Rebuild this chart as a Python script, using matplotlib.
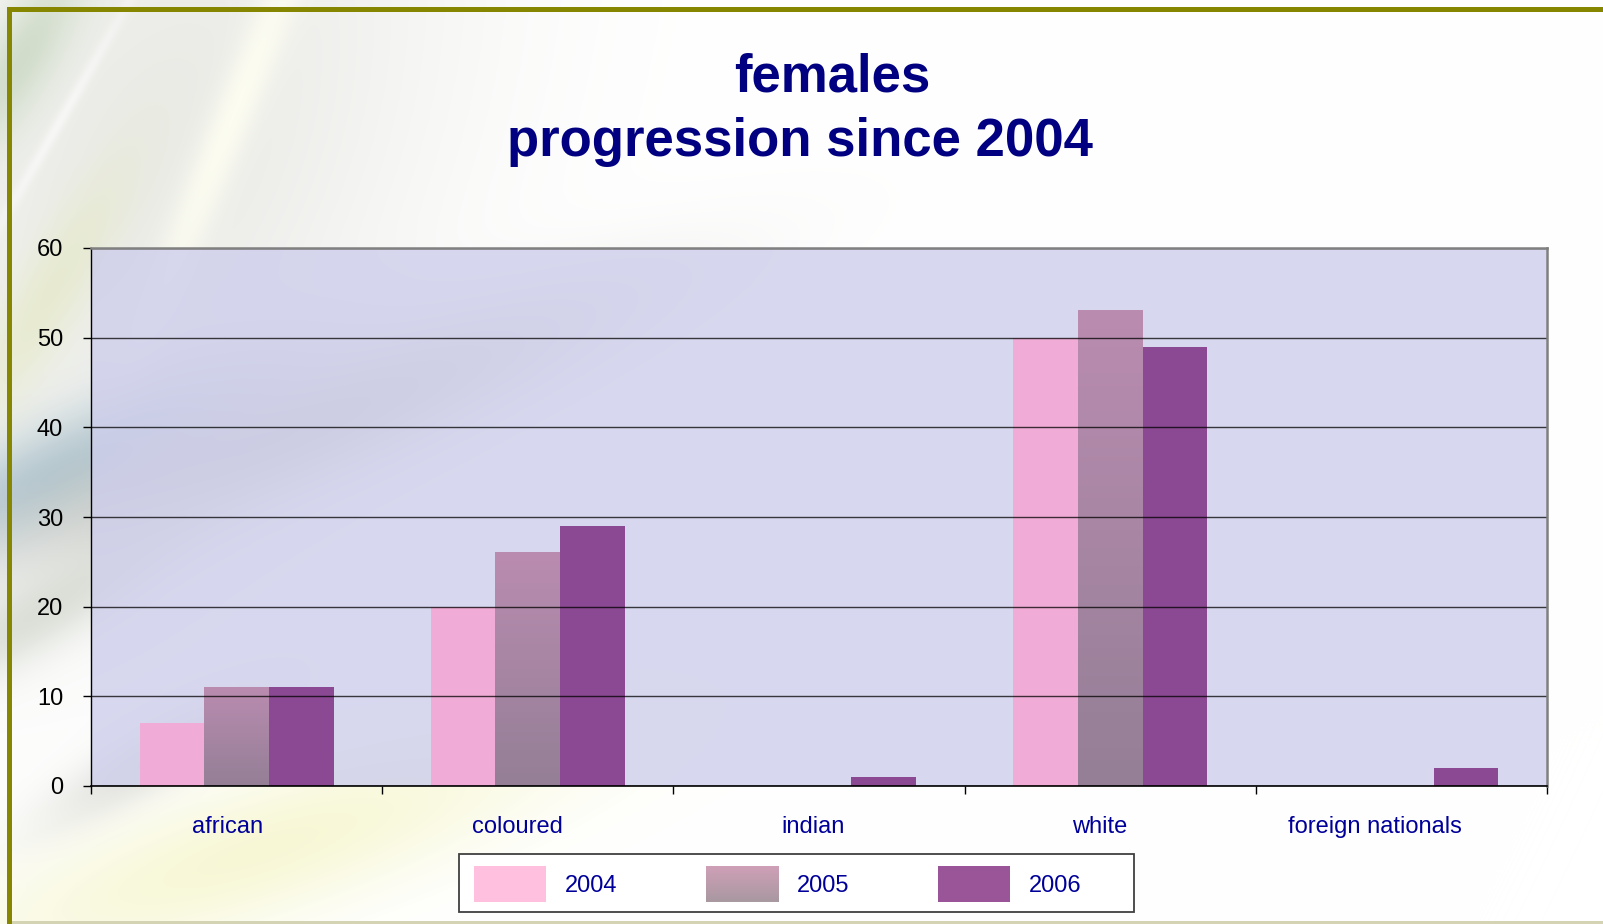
import numpy as np
import matplotlib
matplotlib.use('Agg')
import matplotlib.pyplot as plt
import matplotlib.colors as mcolors
from matplotlib.patches import Patch, Rectangle

# ---------------- data ----------------
categories = ['african', 'coloured', 'indian', 'white', 'foreign nationals']
series_names = ['2004', '2005', '2006']
values_2004 = [7, 20, 0, 50, 0]
values_2005 = [11, 26, 0, 53, 0]
values_2006 = [11, 29, 1, 49, 2]
y_ticks = [0, 10, 20, 30, 40, 50, 60]
title_line1 = 'females'
title_line2 = 'progression since 2004'

# small horizontal nudges (pixels) of category labels, as in the original rendering
label_nudge_px = [-9, -10, -6, -11, -26]

W, H = 1603, 924
DPI = 100
plt.rcParams['font.family'] = ['Liberation Sans', 'DejaVu Sans']

fig = plt.figure(figsize=(W / DPI, H / DPI), dpi=DPI)
fig.patch.set_facecolor('white')

# ---------------- decorative slide background ----------------
yy, xx = np.mgrid[0:H, 0:W].astype(float)
img = np.ones((H, W, 3))


def blob(cx, cy, ang_deg, sa, sc):
    a = np.deg2rad(ang_deg)
    dx, dy = xx - cx, yy - cy
    along = dx * np.cos(a) - dy * np.sin(a)
    across = dx * np.sin(a) + dy * np.cos(a)
    return np.exp(-(along / sa) ** 2 - (across / sc) ** 2)


def blend(im, color, w):
    c = np.array(mcolors.to_rgb(color))
    w = np.clip(w, 0, 1)[..., None]
    return im * (1 - w) + c * w


img = blend(img, '#E8E9E4', 0.9 * blob(150, 150, 65, 450, 260))
img = blend(img, '#FFFFF2', 0.85 * blob(235, 110, 68, 260, 22))
img = blend(img, '#FFFFFF', 0.6 * blob(60, 120, 60, 150, 6))
img = blend(img, '#C4D4BC', 0.7 * blob(20, 60, 60, 120, 35))
img = blend(img, '#E4E8C0', 0.6 * blob(45, 300, 60, 160, 35))
img = blend(img, '#A8C0CC', 0.8 * blob(60, 470, 25, 220, 50))
img = blend(img, '#B4BEAC', 0.4 * blob(30, 620, 30, 160, 35))
img = blend(img, '#B8B8B0', 0.7 * blob(300, 430, 22, 320, 55))
img = blend(img, '#F6F6CC', 0.8 * blob(260, 850, 18, 320, 70))
img = blend(img, '#C0C0BC', 0.45 * blob(150, 760, 30, 120, 30))

bg_ax = fig.add_axes([0, 0, 1, 1], zorder=-10)
bg_ax.imshow(img, extent=[0, W, H, 0], aspect='auto', interpolation='bilinear')
bg_ax.add_patch(Rectangle((7, 7), W - 7, 5, color='#868600', lw=0))
bg_ax.add_patch(Rectangle((7, 7), 5, H - 7, color='#868600', lw=0))
bg_ax.add_patch(Rectangle((12, H - 3), W - 12, 3, color='#D4D4B4', lw=0))
bg_ax.set_xlim(0, W)
bg_ax.set_ylim(H, 0)
bg_ax.axis('off')

# ---------------- main chart ----------------
ax = fig.add_axes([91 / W, 1 - 786 / H, 1456 / W, 538 / H])
ax.set_facecolor('#CECEEC')
ax.patch.set_alpha(0.8)

x = np.arange(len(categories)) + 0.5
bw = 1 / 4.5
b04 = ax.bar(x - bw, values_2004, bw, color='#F3A9D5', alpha=0.92, lw=0, zorder=2)
b05 = ax.bar(x, values_2005, bw, color='#A886A3', lw=0, zorder=2)
b06 = ax.bar(x + bw, values_2006, bw, color='#8B4893', lw=0, zorder=2)

grad05 = mcolors.LinearSegmentedColormap.from_list('g05', ['#947F96', '#BA8CB0'])
gvals = np.linspace(0, 1, 256)[:, None]
for r in b05:
    h = r.get_height()
    if h > 0:
        ax.imshow(gvals, cmap=grad05, origin='lower', aspect='auto',
                  extent=[r.get_x(), r.get_x() + r.get_width(), 0, h],
                  zorder=2.1, interpolation='bilinear')

ax.set_xlim(0, len(categories))
ax.set_ylim(y_ticks[0], y_ticks[-1])

ax.set_xticks(np.arange(len(categories) + 1))
ax.set_xticklabels([])
ax.tick_params(axis='x', which='major', direction='out', length=5.8, width=1, color='black')
for xi, cat, nudge in zip(x, categories, label_nudge_px):
    ax.annotate(cat, xy=(xi, 0), xycoords=('data', 'axes fraction'),
                xytext=(nudge * 0.72, -21.3), textcoords='offset points',
                ha='center', va='top', fontsize=17, color='#000099', annotation_clip=False)

ax.set_yticks(y_ticks)
ax.tick_params(axis='y', direction='out', length=5.8, width=1, pad=14.2,
               labelsize=17, labelcolor='black', color='black')
ax.yaxis.grid(True, color='black', alpha=0.75, lw=1)
ax.set_axisbelow(False)

for s in ['top', 'right']:
    ax.spines[s].set_color('#808080')
    ax.spines[s].set_linewidth(1.8)
    ax.spines[s].set_zorder(3)
ax.spines['left'].set_color('black')
ax.spines['left'].set_linewidth(1)
ax.spines['bottom'].set_color('black')
ax.spines['bottom'].set_linewidth(1.2)
ax.spines['bottom'].set_zorder(3)

# ---------------- title ----------------
fig.text(832 / W, 1 - 92 / H, title_line1, ha='center', va='baseline', fontsize=38,
         fontweight='bold', color='#000080')
fig.text(800 / W, 1 - 156 / H, title_line2, ha='center', va='baseline', fontsize=38,
         fontweight='bold', color='#000080')

# ---------------- legend ----------------
frame = Rectangle((459 / W, 1 - 912 / H), 675 / W, 58 / H, transform=fig.transFigure,
                  facecolor='white', edgecolor='#404040', lw=1.3, zorder=4)
fig.add_artist(frame)

handles = [Patch(facecolor='#FFC0E0', edgecolor='none'),
           Patch(facecolor='#BFA0B4', edgecolor='none'),
           Patch(facecolor='#9A5598', edgecolor='none')]
target_x, target_top = 474, H - 866
leg = fig.legend(handles, series_names, loc='upper left',
                 bbox_to_anchor=(target_x / W, target_top / H),
                 ncol=3, fontsize=17, handlelength=3.05, handleheight=1.97,
                 handletextpad=0.8, columnspacing=3.75, borderpad=0, borderaxespad=0,
                 frameon=False, labelcolor='#000099')

fig.canvas.draw()
renderer = fig.canvas.get_renderer()
bb = leg.legend_handles[0].get_window_extent(renderer)
ddx = target_x - bb.x0
ddy = target_top - bb.y1
leg.set_bbox_to_anchor(((target_x + ddx) / W, (target_top + ddy) / H), transform=fig.transFigure)
fig.canvas.draw()

bb = leg.legend_handles[1].get_window_extent(renderer)
lax = fig.add_axes([bb.x0 / W, bb.y0 / H, bb.width / W, bb.height / H], zorder=10)
grad_leg = mcolors.LinearSegmentedColormap.from_list('gl', ['#A898A0', '#D0A0B8'])
lax.imshow(gvals, cmap=grad_leg, origin='lower', aspect='auto', interpolation='bilinear')
lax.axis('off')

fig.savefig('out.png', dpi=DPI)
